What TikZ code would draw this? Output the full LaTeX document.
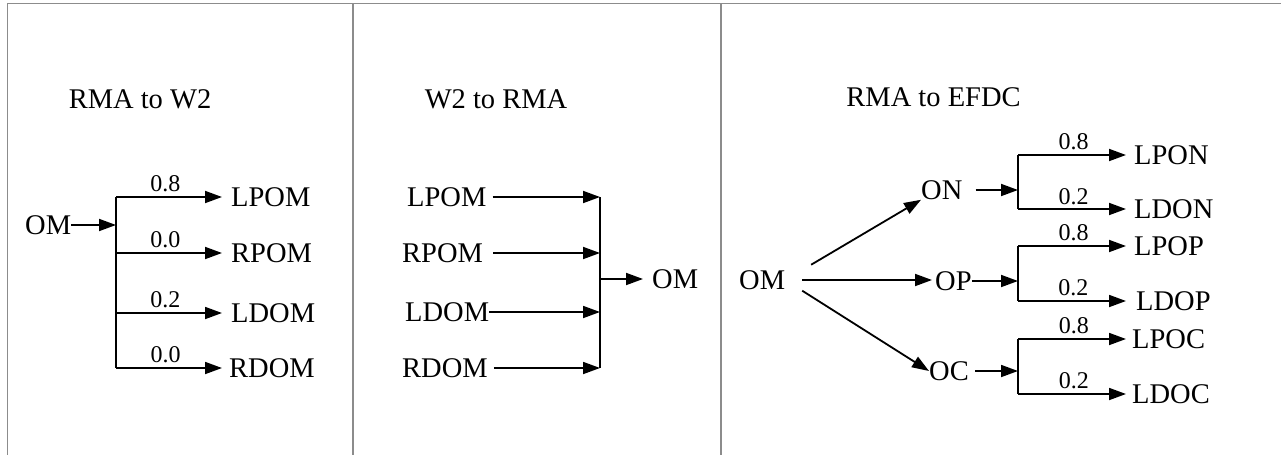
\documentclass[tikz,border=0pt]{standalone}
\usepackage{fontspec}
\setmainfont{Liberation Serif}
\usetikzlibrary{arrows.meta}
\definecolor{framegray}{RGB}{140,140,140}
\begin{document}
\begin{tikzpicture}[x=1pt,y=-1pt,
  txt/.style={inner sep=0pt, font=\fontsize{28.5}{30}\selectfont},
  num/.style={inner sep=0pt, font=\fontsize{24}{26}\selectfont},
  arr/.style={line width=1.8pt, -{Triangle[length=17pt,width=12pt]}},
  ln/.style={line width=1.8pt},
  frameline/.style={line width=1.5pt, draw=framegray}]
\useasboundingbox (0,0) rectangle (1281,455);
% frame
\draw[frameline] (1281,3.5) -- (7.5,3.5) -- (7.5,455);
\draw[frameline] (353,3.5) -- (353,455);
\draw[frameline] (721,3.5) -- (721,455);

% ---------- Panel 1: RMA to W2 ----------
\node[txt,anchor=base] (t1) at (140,108) {RMA to W2};
\node[txt,anchor=west] (om1) at (25,225) {OM};
\coordinate (j1) at (116,197);
\node[txt,anchor=west] (a1) at (231,197) {LPOM};
\node[txt,anchor=west] (b1) at (231,253) {RPOM};
\node[txt,anchor=west] (c1) at (231,313) {LDOM};
\node[txt,anchor=west] (d1) at (229,368) {RDOM};
\draw[ln] (j1) -- (j1 |- d1.west);
\draw[arr] (om1.east) -- (om1.east -| j1);
\draw[arr,shorten >=9pt] (j1) -- node[num,pos=.43,above=4pt] {0.8} (a1.west);
\draw[arr,shorten >=9pt] (j1 |- b1.west) -- node[num,pos=.43,above=4pt] {0.0} (b1.west);
\draw[arr,shorten >=9pt] (j1 |- c1.west) -- node[num,pos=.43,above=4pt] {0.2} (c1.west);
\draw[arr,shorten >=7pt] (j1 |- d1.west) -- node[num,pos=.44,above=4pt] {0.0} (d1.west);

% ---------- Panel 2: W2 to RMA ----------
\node[txt,anchor=base] (t2) at (496,108) {W2 to RMA};
\node[txt,anchor=west] (a2) at (407,197) {LPOM};
\node[txt,anchor=west] (b2) at (402,253) {RPOM};
\node[txt,anchor=west] (c2) at (405,312) {LDOM};
\node[txt,anchor=west] (d2) at (402,368) {RDOM};
\coordinate (j2) at (600,197);
\node[txt,anchor=west] (om2) at (652,279) {OM};
\draw[ln] (j2) -- (j2 |- d2.east);
\draw[arr,shorten <=6pt] (a2.east) -- (a2.east -| j2);
\draw[arr,shorten <=10pt] (b2.east) -- (b2.east -| j2);
\draw[arr] (c2.east) -- (c2.east -| j2);
\draw[arr,shorten <=6pt] (d2.east) -- (d2.east -| j2);
\draw[arr,shorten >=9pt] (om2.west -| j2) -- (om2.west);

% ---------- Panel 3: RMA to EFDC ----------
\node[txt,anchor=base] (t3) at (933.5,106) {RMA to EFDC};
\node[txt,anchor=west] (om3) at (739,280) {OM};
\node[txt,anchor=west] (on3) at (921,190) {ON};
\node[txt,anchor=west] (op3) at (935,281) {OP};
\node[txt,anchor=west] (oc3) at (929,371) {OC};
\draw[arr,shorten <=30pt] (om3.east) -- (on3.south west);
\draw[arr,shorten <=17pt,shorten >=3pt] (om3.east) -- (om3.east -| op3.west);
\draw[arr,shorten <=20pt] (om3.east) -- (oc3.west);

\coordinate (jn) at (1018,155);
\coordinate (jp) at (1018,246);
\coordinate (jc) at (1018,339);
\node[txt,anchor=west] (lpon) at (1134,155) {LPON};
\node[txt,anchor=west] (ldon) at (1134,209) {LDON};
\node[txt,anchor=west] (lpop) at (1134,246) {LPOP};
\node[txt,anchor=west] (ldop) at (1136,301) {LDOP};
\node[txt,anchor=west] (lpoc) at (1132,339) {LPOC};
\node[txt,anchor=west] (ldoc) at (1132,394) {LDOC};

\draw[arr,shorten <=13pt] (on3.east) -- (on3.east -| jn);
\draw[arr] (op3.east) -- (op3.east -| jp);
\draw[arr,shorten <=6pt] (oc3.east) -- (oc3.east -| jc);

\draw[ln] (jn) -- (jn |- ldon.west);
\draw[ln] (jp) -- (jp |- ldop.west);
\draw[ln] (jc) -- (jc |- ldoc.west);

\draw[arr,shorten >=8pt] (jn) -- node[num,pos=.48,above=4pt] {0.8} (lpon.west);
\draw[arr,shorten >=8pt] (jn |- ldon.west) -- node[num,pos=.48,above=3pt] {0.2} (ldon.west);
\draw[arr,shorten >=8pt] (jp) -- node[num,pos=.48,above=4pt] {0.8} (lpop.west);
\draw[arr,shorten >=10pt] (jp |- ldop.west) -- node[num,pos=.47,above=4pt] {0.2} (ldop.west);
\draw[arr,shorten >=6pt] (jc) -- node[num,pos=.49,above=4pt] {0.8} (lpoc.west);
\draw[arr,shorten >=6pt] (jc |- ldoc.west) -- node[num,pos=.49,above=4pt] {0.2} (ldoc.west);
\end{tikzpicture}
\end{document}
